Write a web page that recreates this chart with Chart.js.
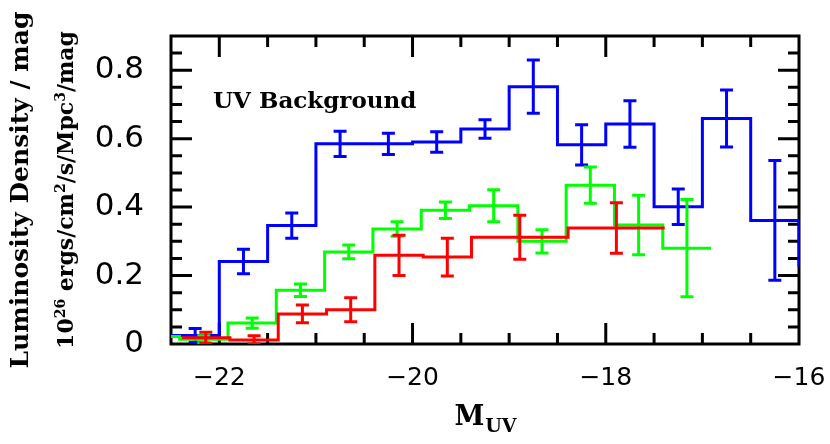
<!DOCTYPE html>
<html lang="en">
<head>
<meta charset="utf-8">
<title>UV Background luminosity density</title>
<script src="https://cdn.jsdelivr.net/npm/chart.js@4.4.1/dist/chart.umd.min.js"></script>
<style>
  body { margin: 0; background: #fff; }
  canvas { display: block; }
</style>
</head>
<body>
<canvas id="lum" width="830" height="444"></canvas>
<script>
// bin edges in M_UV, luminosity density (1e26 ergs/cm2/s/Mpc3/mag) and 1-sigma errors
var blueEdges = [-22.5, -22.0, -21.5, -21.0, -20.5, -20.0, -19.5, -19.0, -18.5, -18.0, -17.5, -17.0, -16.5, -16.0, -15.5];
var blueLum   = [0.025, 0.241, 0.346, 0.585, 0.585, 0.590, 0.628, 0.752, 0.582, 0.643, 0.401, 0.659, 0.361, 0.226];
var blueErr   = [0.020, 0.036, 0.037, 0.037, 0.031, 0.030, 0.027, 0.078, 0.059, 0.068, 0.052, 0.083, 0.175, null];

var greenEdges = [-22.91, -22.41, -21.91, -21.41, -20.91, -20.41, -19.91, -19.41, -18.91, -18.41, -17.91, -17.41, -16.91];
var greenLum   = [0.022, 0.014, 0.061, 0.157, 0.269, 0.336, 0.391, 0.404, 0.300, 0.464, 0.348, 0.280];
var greenErr   = [0.010, 0.010, 0.015, 0.018, 0.020, 0.021, 0.024, 0.047, 0.034, 0.053, 0.087, 0.142];

var redEdges = [-22.39, -21.89, -21.39, -20.89, -20.39, -19.89, -19.39, -18.39, -17.39];
var redLum   = [0.018, 0.012, 0.088, 0.100, 0.259, 0.254, 0.312, 0.339];
var redErr   = [0.016, 0.012, 0.026, 0.035, 0.059, 0.055, 0.064, 0.074];

var xTickVals = [-22, -20, -18, -16];
var yTickVals = [0, 0.2, 0.4, 0.6, 0.8];

// histogram outline: one point per left edge, plus the last right edge
function steps(edges, vals) {
  var pts = [];
  for (var i = 0; i < vals.length; i++) pts.push({x: edges[i], y: vals[i]});
  pts.push({x: edges[vals.length], y: vals[vals.length - 1]});
  return pts;
}

function histo(edges, vals, errs, color) {
  return {
    data: steps(edges, vals),
    edges: edges, vals: vals, errs: errs,
    borderColor: color,
    borderWidth: 3,
    stepped: true,
    pointRadius: 0,
    fill: false,
    borderJoinStyle: 'miter'
  };
}

var frameAndBars = {
  id: 'frameAndBars',
  // box and inward ticks go under the data, like the original
  beforeDatasetsDraw: function(chart) {
    var xs = chart.scales.x, ys = chart.scales.y, a = chart.chartArea, ctx = chart.ctx;
    ctx.save();
    ctx.strokeStyle = '#000';
    ctx.lineWidth = 3;
    ctx.strokeRect(a.left, a.top, a.right - a.left, a.bottom - a.top);

    ctx.beginPath();
    var k, v, p, len;
    for (k = 1; k < 13; k++) {
      v = -22.5 + k * 0.5;
      p = xs.getPixelForValue(v);
      len = Math.abs(v % 2) < 1e-9 ? 21 : 11;
      ctx.moveTo(p, a.bottom); ctx.lineTo(p, a.bottom - len);
      ctx.moveTo(p, a.top); ctx.lineTo(p, a.top + len);
    }
    for (k = 1; k < 18; k++) {
      p = ys.getPixelForValue(k * 0.05);
      len = k % 4 === 0 ? 21 : 11;
      ctx.moveTo(a.left, p); ctx.lineTo(a.left + len, p);
      ctx.moveTo(a.right, p); ctx.lineTo(a.right - len, p);
    }
    ctx.stroke();
    ctx.restore();
  },
  afterDatasetDraw: function(chart, args) {
    var ds = chart.data.datasets[args.index];
    var xs = chart.scales.x, ys = chart.scales.y, a = chart.chartArea, ctx = chart.ctx;
    ctx.save();
    ctx.beginPath();
    ctx.rect(a.left, a.top, a.right - a.left, a.bottom - a.top);
    ctx.clip();
    ctx.strokeStyle = ds.borderColor;
    ctx.lineWidth = 3;
    for (var i = 0; i < ds.vals.length; i++) {
      if (ds.errs[i] == null) continue;
      var px = xs.getPixelForValue((ds.edges[i] + ds.edges[i + 1]) / 2);
      var top = ys.getPixelForValue(ds.vals[i] + ds.errs[i]);
      var bot = ys.getPixelForValue(Math.max(0, ds.vals[i] - ds.errs[i]));
      ctx.beginPath();
      ctx.moveTo(px, top); ctx.lineTo(px, bot);
      ctx.moveTo(px - 6.5, top); ctx.lineTo(px + 6.5, top);
      ctx.moveTo(px - 6.5, bot); ctx.lineTo(px + 6.5, bot);
      ctx.stroke();
    }
    ctx.restore();
  },
  afterDraw: function(chart) {
    var xs = chart.scales.x, ys = chart.scales.y, a = chart.chartArea, ctx = chart.ctx;
    ctx.save();
    ctx.fillStyle = '#000';
    ctx.textBaseline = 'alphabetic';

    // in-plot label
    ctx.font = 'bold 23px "DejaVu Serif"';
    ctx.textAlign = 'left';
    ctx.fillText('UV Background', xs.getPixelForValue(-22.065), ys.getPixelForValue(0.691));

    // x title M_UV
    var cx = (a.left + a.right) / 2;
    ctx.font = 'bold 27px "DejaVu Serif"';
    var wM = ctx.measureText('M').width;
    ctx.font = 'bold 19px "DejaVu Serif"';
    var wS = ctx.measureText('UV').width;
    var x0 = cx - (wM + wS) / 2;
    ctx.font = 'bold 27px "DejaVu Serif"';
    ctx.fillText('M', x0, 425);
    ctx.font = 'bold 19px "DejaVu Serif"';
    ctx.fillText('UV', x0 + wM + 1, 432);

    // y titles, rotated
    var cy = (a.top + a.bottom) / 2;
    ctx.save();
    ctx.translate(28, cy);
    ctx.rotate(-Math.PI / 2);
    ctx.font = 'bold 25px "DejaVu Serif"';
    ctx.textAlign = 'center';
    ctx.fillText('Luminosity Density / mag', 0, 0);
    ctx.restore();

    var parts = [
      ['10', 0], ['26', 1], [' ergs/cm', 0], ['2', 1], ['/s/Mpc', 0], ['3', 1], ['/mag', 0]
    ];
    var big = 'bold 22px "DejaVu Serif"', small = 'bold 14px "DejaVu Serif"';
    var total = 0;
    parts.forEach(function(pt) {
      ctx.font = pt[1] ? small : big;
      total += ctx.measureText(pt[0]).width;
    });
    ctx.save();
    ctx.translate(73, cy);
    ctx.rotate(-Math.PI / 2);
    ctx.textAlign = 'left';
    var pos = -total / 2;
    parts.forEach(function(pt) {
      ctx.font = pt[1] ? small : big;
      ctx.fillText(pt[0], pos, pt[1] ? -8 : 0);
      pos += ctx.measureText(pt[0]).width;
    });
    ctx.restore();
    ctx.restore();
  }
};

var config = {
  type: 'line',
  data: {
    datasets: [
      histo(redEdges, redLum, redErr, '#ff0000'),
      histo(greenEdges, greenLum, greenErr, '#00ff00'),
      histo(blueEdges, blueLum, blueErr, '#0000ff')
    ]
  },
  options: {
    responsive: false,
    animation: false,
    devicePixelRatio: 1,
    layout: { padding: { top: 36, right: 31, left: 0, bottom: 0 } },
    plugins: { legend: { display: false }, tooltip: { enabled: false } },
    scales: {
      x: {
        type: 'linear',
        min: -22.5,
        max: -16,
        grid: { display: false },
        border: { display: false },
        afterBuildTicks: function(scale) {
          scale.ticks = xTickVals.map(function(v) { return {value: v}; });
        },
        afterFit: function(scale) {
          scale.height = 100;
          scale.paddingLeft = 0;
          scale.paddingRight = 0;
        },
        ticks: {
          color: '#000',
          padding: 11,
          maxRotation: 0,
          autoSkip: false,
          font: { family: '"DejaVu Sans"', size: 25 },
          callback: function(v) { return v < 0 ? '\u2212' + Math.abs(v) : String(v); }
        }
      },
      y: {
        min: 0,
        max: 0.9,
        grid: { display: false },
        border: { display: false },
        afterBuildTicks: function(scale) {
          scale.ticks = yTickVals.map(function(v) { return {value: v}; });
        },
        afterFit: function(scale) {
          scale.width = 171;
          scale.paddingTop = 0;
          scale.paddingBottom = 0;
        },
        ticks: {
          color: '#000',
          padding: 19,
          font: { family: '"DejaVu Sans"', size: 31 },
          callback: function(v) { return v === 0 ? '0' : v.toFixed(1); }
        }
      }
    }
  },
  plugins: [frameAndBars]
};

window.onload = function() {
  var ctx = document.getElementById('lum').getContext('2d');
  window.lumChart = new Chart(ctx, config);
};
</script>
</body>
</html>
